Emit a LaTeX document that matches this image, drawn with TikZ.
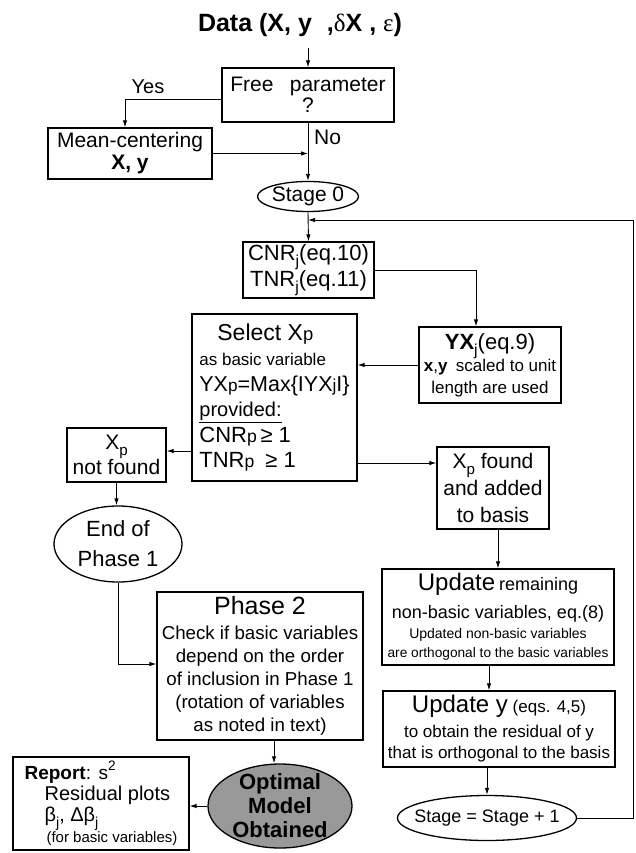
\documentclass[tikz,border=0pt]{standalone}
\usepackage{fontspec}
\setmainfont{Liberation Sans}
\newfontfamily\grk{Liberation Serif}
\usepackage{graphicx}
\usetikzlibrary{shapes.geometric,arrows.meta}
\newcommand\dsub[1]{\raisebox{-0.28em}{\scalebox{0.72}{#1}}}
\newcommand\dsup[1]{\raisebox{0.5em}{\scalebox{0.72}{#1}}}
\newcommand\dsm[1]{\scalebox{0.8}{#1}}
\newcommand\fs[2]{\fontsize{#1}{#2}\selectfont}
\begin{document}
\begin{tikzpicture}[x=1pt,y=-1pt,
  box/.style={draw,line width=1.3pt,inner sep=0pt,align=center},
  oval/.style={draw,ellipse,line width=1.3pt,inner sep=0pt},
  txt/.style={inner sep=0pt,align=center},
  conn/.style={line width=0.9pt},
  arr/.style={conn,-{Latex[length=7pt,width=4.5pt]}}]
\useasboundingbox[fill=white] (0,0) rectangle (635,853);

% title
\node[txt,font=\fs{25}{30}\bfseries] (title) at (300,25)
  {Data (X, y\hspace{0.6em},{\grk\mdseries δ}X , {\grk\mdseries ε})};

% boxes
\node[box,minimum width=172,minimum height=54,font=\fs{21}{21}] (free) at (308,95)
  {Free\hspace{0.5em} parameter\\?};
\node[box,minimum width=164,minimum height=51,font=\fs{21}{22}] (mean) at (130,153.5)
  {Mean-centering\\\textbf{X, y}};
\node[oval,minimum width=101,minimum height=30,
  label={[txt,font=\fs{21}{22}]center:Stage 0}] (stage0) at (308,196.5) {};
\node[box,minimum width=131,minimum height=56,font=\fs{22}{22}] (cnr) at (308.5,270)
  {CNR\dsub{j}(eq.10)\\TNR\dsub{j}(eq.11)};
\node[box,minimum width=142,minimum height=76,font=\fs{17}{22}] (yx) at (490,365)
  {{\fs{22}{22}\textbf{YX}\dsub{j}(eq.9)}\\\textbf{x},\textbf{y}\hspace{0.5em}scaled to unit\\length are used};
\node[box,minimum width=165,minimum height=167,align=left,font=\fs{21.5}{25.5}] (select) at (274.5,397.5)
  {\hspace*{18pt}{\fs{23}{25}Select X\dsm{p}}\\
   {\fs{17}{20}as basic variable}\\
   YX\dsm{p}=Max\{IYX\dsm{j}I\}\\
   {\fs{20}{20}\underline{provided:}}\\
   {\fs{22}{22}CNR\dsm{p}\,≥ 1}\\
   {\fs{22}{22}TNR\dsm{p}\hspace{0.5em}≥ 1}};
\node[box,minimum width=99,minimum height=54,font=\fs{21}{25}] (notfound) at (116.5,455)
  {X\dsub{p}\\not found};
\node[box,minimum width=112,minimum height=82,font=\fs{21}{27}] (found) at (493,488)
  {X\dsub{p} found\\and added\\to basis};
\node[oval,minimum width=128,minimum height=76,
  label={[txt,font=\fs{22}{30}]center:End of\\Phase 1}] (endp) at (118,544) {};
\node[box,minimum width=232,minimum height=96,font=\fs{14}{19.5}] (update) at (498,617)
  {{\fs{24}{24}Update} {\fs{18}{18}remaining}\\[8.5pt]
   {\fs{18}{18}non-basic variables, eq.(8)}\\
   Updated non-basic variables\\
   {\fs{13.7}{19}are orthogonal to the basic variables}};
\node[box,minimum width=232,minimum height=76,font=\fs{17}{21}] (updy) at (499,729)
  {{\fs{24}{24}Update y} {\fs{17}{18}(eqs. 4,5)}\\[4pt]
   to obtain the residual of y\\
   that is orthogonal to the basis};
\node[oval,minimum width=179,minimum height=45,
  label={[txt,font=\fs{18}{20}]center:Stage = Stage + 1}] (stp1) at (487,818) {};
\node[box,minimum width=206,minimum height=148,font=\fs{18.7}{23}] (phase2) at (260,666)
  {{\fs{25}{25}Phase 2}\\[2pt]
   Check if basic variables\\
   depend on the order\\
   of inclusion in Phase 1\\
   (rotation of variables\\
   as noted in text)};
\node[oval,fill=black!40,minimum width=144,minimum height=84,
  label={[txt,font=\fs{22}{24}\bfseries]center:Optimal\\Model\\Obtained}] (optimal) at (280,806) {};
\node[box,minimum width=176,minimum height=93,align=left,font=\fs{20}{21}] (report) at (101,803.5)
  {{\fs{19}{21}\textbf{Report}:\hspace{0.4em}s\dsup{2}}\\
   \hspace*{20pt}Residual plots\\
   \hspace*{20pt}β\dsub{j}, Δβ\dsub{j}\\
   \hspace*{22pt}{\fs{15}{21}(for basic variables)}};

% labels
\node[txt,font=\fs{20}{20}] (yes) at (148,87) {Yes};
\node[txt,font=\fs{21}{21},anchor=west] (no) at (314,137) {No};

% helper coordinates
\coordinate (tarr) at (308,48);
\coordinate (ycor) at (125,99);
\coordinate (rc) at (633,220);
\coordinate (loopin) at (308,220);
\coordinate (nfy) at (0,451);
\coordinate (fdy) at (0,463);
\coordinate (yxx) at (476,0);
\coordinate (p2y) at (0,664);
\coordinate (u2x) at (489,0);
\coordinate (optx) at (274,0);

% connectors
\draw[arr] (tarr) -- (free.north);
\draw[arr] (free.west |- ycor) -| (mean.north -| ycor);
\draw[arr] (mean.east) -- (mean.east -| free.south);
\draw[arr] (free.south) -- (stage0.north);
\draw[arr] (stage0.south) -- (cnr.north);
\draw[arr] (stp1.east) -| (rc) -- (loopin);
\draw[arr] (cnr.east) -| (yx.north -| yxx);
\draw[arr] (yx.west) -- (yx.west -| select.east);
\draw[arr] (select.west |- nfy) -- (notfound.east |- nfy);
\draw[arr] (select.east |- fdy) -- (found.west |- fdy);
\draw[arr] (found.south -| update.north) -- (update.north);
\draw[arr] (update.south -| u2x) -- (updy.north -| u2x);
\draw[arr] (updy.south -| stp1.north) -- (stp1.north);
\draw[arr] (notfound.south) -- (notfound.south |- endp.north);
\draw[arr] (endp.south) |- (phase2.west |- p2y);
\draw[arr] (phase2.south -| optx) -- (optimal.north -| optx);
\draw[arr] (optimal.west) -- (optimal.west -| report.east);
\end{tikzpicture}
\end{document}
